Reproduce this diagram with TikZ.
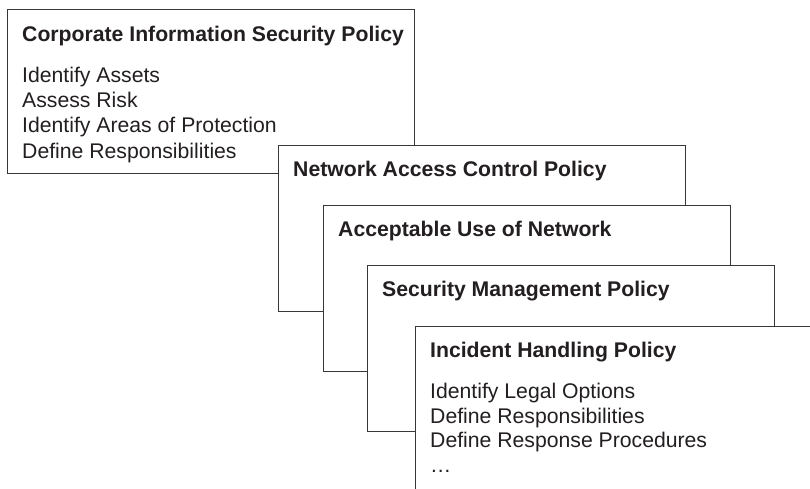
\documentclass[tikz,border=0pt]{standalone}
\usepackage{fontspec}
\setmainfont{Liberation Sans}
\definecolor{ink}{RGB}{35,31,32}
\definecolor{edge}{RGB}{55,55,55}
\tikzset{
  policybox/.style={draw=edge, line width=1.1pt, fill=white, minimum width=407pt,
    minimum height=166pt, anchor=north west, inner sep=0pt},
  heading/.style={anchor=base west, inner sep=0pt, text=ink,
    font=\fontsize{21.2}{25}\selectfont\bfseries},
  item/.style={anchor=base west, inner sep=0pt, text=ink,
    font=\fontsize{21.2}{25}\selectfont},
}
\begin{document}
\begin{tikzpicture}[x=1pt,y=-1pt]
\useasboundingbox (0,0) rectangle (810,489);
\clip (0,0) rectangle (810,489);
% box 1
\node[policybox, minimum height=164pt] (b1) at (7,9) {};
\node[heading] (t1) at ([shift={(15,32.5)}]b1.north west) {Corporate Information Security Policy};
\node[item] (b1l1) at ([shift={(15,74)}]b1.north west) {Identify Assets};
\node[item] (b1l2) at ([shift={(15,99)}]b1.north west) {Assess Risk};
\node[item] (b1l3) at ([shift={(15,124)}]b1.north west) {Identify Areas of Protection};
\node[item] (b1l4) at ([shift={(15,149)}]b1.north west) {Define Responsibilities};
% box 2
\node[policybox] (b2) at (278,145) {};
\node[heading] (t2) at ([shift={(15,31.7)}]b2.north west) {Network Access Control Policy};
% box 3
\node[policybox] (b3) at (323,205) {};
\node[heading] (t3) at ([shift={(15,31.7)}]b3.north west) {Acceptable Use of Network};
% box 4
\node[policybox] (b4) at (367,265) {};
\node[heading] (t4) at ([shift={(15,31.7)}]b4.north west) {Security Management Policy};
% box 5
\node[policybox] (b5) at (415,326) {};
\node[heading] (t5) at ([shift={(15,31)}]b5.north west) {Incident Handling Policy};
\node[item] (b5l1) at ([shift={(15,72)}]b5.north west) {Identify Legal Options};
\node[item] (b5l2) at ([shift={(15,97)}]b5.north west) {Define Responsibilities};
\node[item] (b5l3) at ([shift={(15,121.5)}]b5.north west) {Define Response Procedures};
\node[item] (b5l4) at ([shift={(15,146)}]b5.north west) {…};
\end{tikzpicture}
\end{document}
